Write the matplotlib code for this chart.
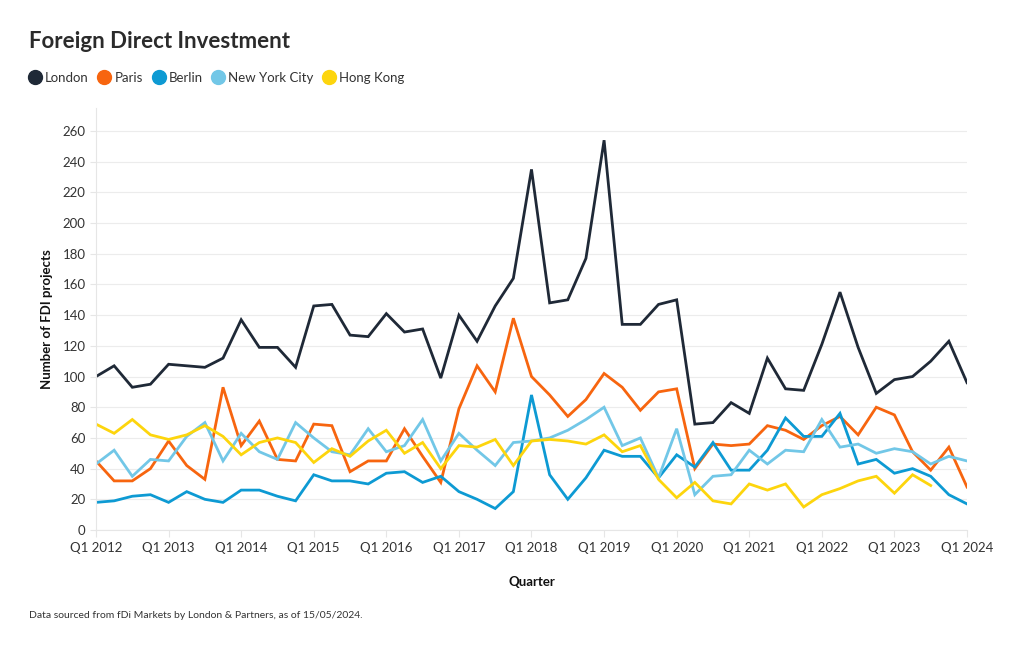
import matplotlib
matplotlib.use("Agg")
import matplotlib.pyplot as plt
from matplotlib.lines import Line2D
import numpy as np

plt.rcParams['font.family'] = ['Lato', 'DejaVu Sans']

# quarterly data, Q1 2012 .. Q1 2024
london = [100, 107, 93, 95, 108, 107, 106, 112, 137, 119, 119, 106,
          146, 147, 127, 126, 141, 129, 131, 99, 140, 123, 146, 164,
          235, 148, 150, 177, 254, 134, 134, 147, 150, 69, 70, 83,
          76, 112, 92, 91, 121, 155, 119, 89, 98, 100, 110, 123, 96]
paris = [45, 32, 32, 40, 58, 42, 33, 93, 55, 71, 46, 45,
         69, 68, 38, 45, 45, 66, 48, 31, 79, 107, 90, 138,
         100, 88, 74, 85, 102, 93, 78, 90, 92, 40, 56, 55,
         56, 68, 65, 59, 68, 74, 62, 80, 75, 51, 39, 54, 28]
berlin = [18, 19, 22, 23, 18, 25, 20, 18, 26, 26, 22, 19,
          36, 32, 32, 30, 37, 38, 31, 35, 25, 20, 14, 25,
          88, 36, 20, 34, 52, 48, 48, 34, 49, 41, 57, 39,
          39, 52, 73, 61, 61, 76, 43, 46, 37, 40, 35, 23, 17]
nyc = [43, 52, 35, 46, 45, 61, 70, 45, 63, 51, 46, 70,
       60, 51, 49, 66, 51, 55, 72, 45, 63, 52, 42, 57,
       58, 60, 65, 72, 80, 55, 60, 34, 66, 23, 35, 36,
       52, 43, 52, 51, 72, 54, 56, 50, 53, 51, 43, 48, 45]
hong_kong = [69, 63, 72, 62, 59, 62, 68, 61, 49, 57, 60, 57,
             44, 53, 48, 58, 65, 50, 57, 40, 55, 54, 59, 42,
             58, 59, 58, 56, 62, 51, 55, 33, 21, 31, 19, 17,
             30, 26, 30, 15, 23, 27, 32, 35, 24, 36, 29]

series = [("London", london, "#1f2937"),
          ("Paris", paris, "#f7650f"),
          ("Berlin", berlin, "#0d9ad3"),
          ("New York City", nyc, "#72c7e7"),
          ("Hong Kong", hong_kong, "#fdd50d")]

years = list(range(2012, 2025))
tick_labels = ["Q1 %d" % y for y in years]

fig = plt.figure(figsize=(10.2, 6.5), dpi=100)
ax = fig.add_axes([96/1020, 1-530/650, 871/1020, 422/650])

for name, vals, col in series:
    ax.plot(np.arange(len(vals)), vals, color=col, lw=2.0, solid_joinstyle='miter', label=name)

ax.set_xlim(0, 48)
ax.set_ylim(0, 275)
ax.set_yticks(np.arange(0, 261, 20))
ax.set_xticks(np.arange(0, 49, 4))
ax.set_xticklabels(tick_labels)
ax.tick_params(axis='both', labelsize=9.5, colors='#333333')
ax.tick_params(axis='y', length=4, color='#e6e6e6')
ax.tick_params(axis='x', length=5, color='#e6e6e6')
ax.grid(axis='y', color='#ececec', lw=0.8)
ax.set_axisbelow(True)
for s in ['top', 'right']:
    ax.spines[s].set_visible(False)
for s in ['left', 'bottom']:
    ax.spines[s].set_color('#e6e6e6')
    ax.spines[s].set_linewidth(0.8)

ax.set_ylabel("Number of FDI projects", fontsize=9.5, fontweight='bold', color='#111111', labelpad=7)
ax.set_xlabel("Quarter", fontsize=9.5, fontweight='bold', color='#111111', labelpad=16)

fig.text(29/1020, 1-42/650, "Foreign Direct Investment", fontsize=16, fontweight='bold',
         color='#2b2b2b', va='center', ha='left')

handles = [Line2D([], [], marker='o', ls='', markersize=10, color=c) for _, _, c in series]
fig.legend(handles, [n for n, _, _ in series], loc='center left', bbox_to_anchor=(29/1020, 1-78/650),
           ncol=5, frameon=False, fontsize=9.5, handletextpad=0.3, columnspacing=0.75,
           handlelength=0.9, borderpad=0, borderaxespad=0, labelcolor='#333333')

fig.text(29/1020, 1-615/650, "Data sourced from fDi Markets by London & Partners, as of 15/05/2024.",
         fontsize=7.5, color='#333333', va='center', ha='left')

fig.savefig("out.png", dpi=100)
